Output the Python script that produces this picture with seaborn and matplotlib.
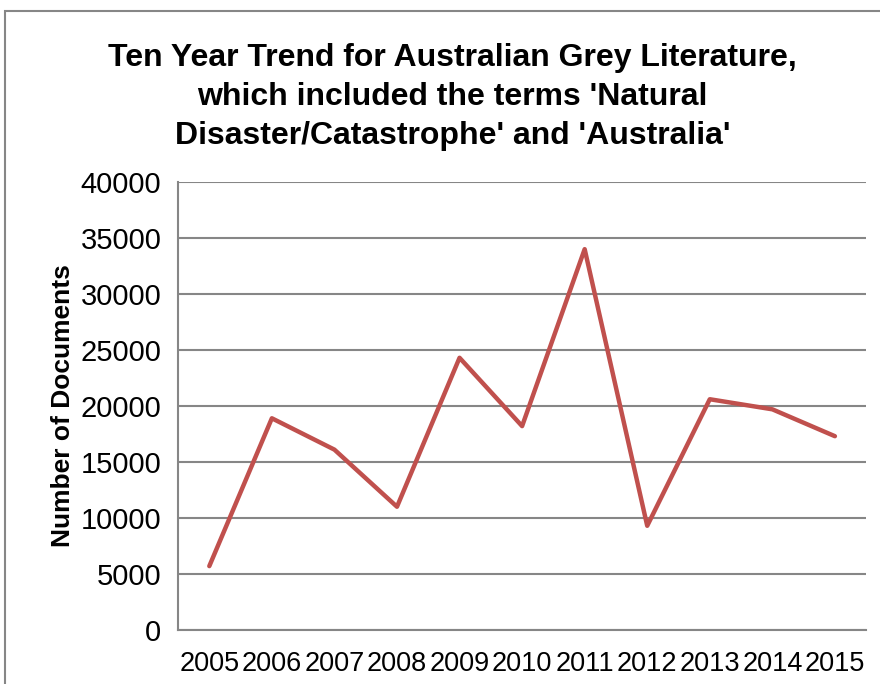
import pandas as pd
import matplotlib.pyplot as plt
import seaborn as sns
from matplotlib.patches import Rectangle

# Data
years = [2005, 2006, 2007, 2008, 2009, 2010, 2011, 2012, 2013, 2014, 2015]
documents = [5700, 18900, 16100, 11000, 24300, 18200, 34000, 9300, 20600, 19700, 17300]
y_ticks = [0, 5000, 10000, 15000, 20000, 25000, 30000, 35000, 40000]

df = pd.DataFrame({'year': years, 'documents': documents})

sns.set_style('white')
plt.rcParams['font.family'] = ['Liberation Sans', 'DejaVu Sans']
plt.rcParams['text.color'] = 'black'
plt.rcParams['xtick.color'] = 'black'
plt.rcParams['ytick.color'] = 'black'
plt.rcParams['axes.labelcolor'] = 'black'

fig = plt.figure(figsize=(8.8, 6.84), dpi=100)
ax = fig.add_axes([0.2023, 0.079, 0.782, 0.655])

sns.lineplot(data=df, x='year', y='documents', ax=ax, color='#C0504D', linewidth=3.2)

ax.set_xlim(2004.5, 2015.5)
ax.set_ylim(0, 40000)
ax.set_yticks(y_ticks)
ax.set_yticklabels([str(v) for v in y_ticks])
ax.set_xticks(years)
ax.set_xticklabels([str(y) for y in years])
ax.tick_params(axis='y', labelsize=21, length=0, pad=12)
ax.tick_params(axis='x', labelsize=19.5, length=0, pad=15)
ax.grid(axis='y', color='#868686', linewidth=1.5)
ax.set_axisbelow(True)

for side in ['top', 'right']:
    ax.spines[side].set_visible(False)
ax.spines['left'].set_color('#868686')
ax.spines['left'].set_linewidth(1.5)
ax.spines['bottom'].set_color('#868686')
ax.spines['bottom'].set_linewidth(1.5)

ax.set_xlabel('')
ax.set_ylabel('Number of Documents', fontsize=19, fontweight='bold', labelpad=4)

fig.text(0.514, 0.858,
         "Ten Year Trend for Australian Grey Literature,\n"
         "which included the terms 'Natural\n"
         "Disaster/Catastrophe' and 'Australia'",
         ha='center', va='center', fontsize=23, fontweight='bold', linespacing=1.4)

# chart area border
fig.patches.append(Rectangle((5 / 880, -0.1), 2.0, 1.1 - 11 / 684, transform=fig.transFigure,
                             fill=False, edgecolor='#868686', linewidth=1.5))

plt.savefig('out.png', dpi=100)
